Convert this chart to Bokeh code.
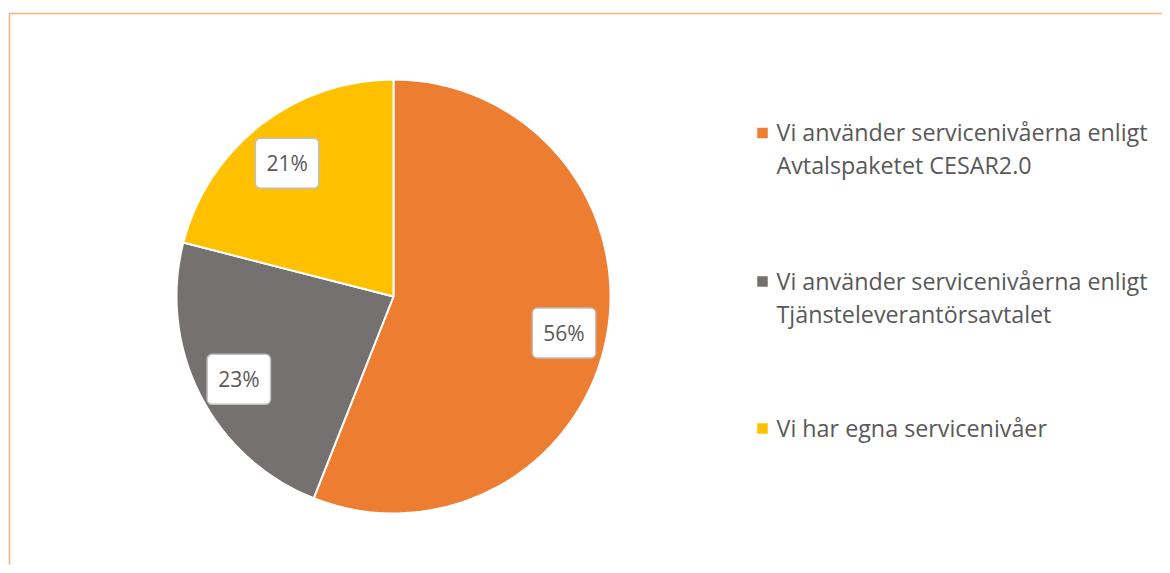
import numpy as np
from bokeh.plotting import figure
from bokeh.models import ColumnDataSource, Range1d
from bokeh.core.properties import value
from bokeh.embed import file_html
from bokeh.resources import INLINE

categories = ["Vi använder servicenivåerna enligt\nAvtalspaketet CESAR2.0",
              "Vi använder servicenivåerna enligt\nTjänsteleverantörsavtalet",
              "Vi har egna servicenivåer"]
values = [56, 23, 21]
colors = ["#ED7D31", "#767171", "#FFC000"]

FONT = "Open Sans"
W, H = 1162, 565
p = figure(width=W, height=H, output_backend="svg", toolbar_location=None,
           x_range=Range1d(0, W), y_range=Range1d(0, H),
           x_axis_location=None, y_axis_location=None, min_border=0)
p.grid.visible = False
p.outline_line_color = None

# border frame (screen px -> data: x = X, y = 565-Y)
p.line(x=[9, 9, W + 5], y=[-5, 552, 552], line_color="#F4B183", line_width=1.5)

cx, cy, r = 393, 269, 217
v = np.array(values, dtype=float)
frac = v / v.sum()
cum = np.concatenate([[0], np.cumsum(frac)])
start = np.pi / 2 - 2 * np.pi * cum[:-1]
end = np.pi / 2 - 2 * np.pi * cum[1:]
mid = (start + end) / 2
src = ColumnDataSource(dict(start=start, end=end, color=colors))
p.wedge(x=cx, y=cy, radius=r, start_angle="start", end_angle="end",
        direction="clock", fill_color="color", line_color="white",
        line_width=2, source=src)

lab = ColumnDataSource(dict(
    x=cx + 0.8 * r * np.cos(mid), y=cy + 0.8 * r * np.sin(mid) - 4,
    t=[f"{int(round(f * 100))}%" for f in frac]))
p.text(x="x", y="y", text="t", source=lab, text_font=value(FONT),
       text_font_size="21px", text_color="#595959", text_align="center",
       text_baseline="middle", background_fill_color="white",
       border_line_color="#BFBFBF", border_line_width=1.5,
       padding=[11, 11], border_radius=5)

# legend
lx_box, lx_text = 762, 776
first_base = [565 - 141.5, 565 - 290, 565 - 437]
line_gap = 33
leg = ColumnDataSource(dict(x=[lx_box] * 3, y=[b + 9 for b in first_base], color=colors))
p.rect(x="x", y="y", width=10.5, height=10.5, fill_color="color", line_color=None, source=leg)
tx, ty, tt = [], [], []
for b, c in zip(first_base, categories):
    for i, line in enumerate(c.split("\n")):
        tx.append(lx_text)
        ty.append(b + 10 - i * line_gap)
        tt.append(line)
legt = ColumnDataSource(dict(x=tx, y=ty, t=tt))
p.text(x="x", y="y", text="t", source=legt, text_font=value(FONT),
       text_font_size="23.3px", text_color="#595959", text_align="left",
       text_baseline="alphabetic")

open("out.html", "w").write(file_html(p, INLINE))
